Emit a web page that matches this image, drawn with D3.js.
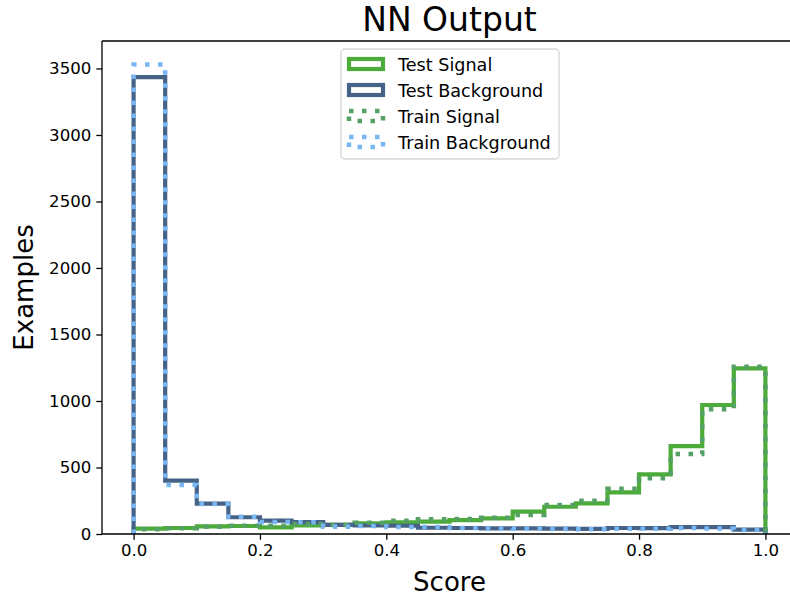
<!DOCTYPE html>
<html>
<head>
<meta charset="utf-8">
<script src="https://cdn.jsdelivr.net/npm/d3@7"></script>
<style>
  body { margin: 0; background: #fff; overflow: hidden; }
  svg { font-family: "DejaVu Sans", sans-serif; display: block; }
</style>
</head>
<body>
<div id="chart"></div>
<script>
// bin edges: 20 bins from 0 to 1
const binEdges = d3.range(21).map((i) => +(i * 0.05).toFixed(2));
const xTicks = [0, 0.2, 0.4, 0.6, 0.8, 1.0];
const yTicks = [0, 500, 1000, 1500, 2000, 2500, 3000, 3500];

// counts per bin
const testSignal = [40, 45, 58, 60, 50, 65, 68, 80, 88, 93, 105, 118, 168, 205, 230, 313, 448, 661, 970, 1245];
const testBackground = [3435, 402, 228, 126, 100, 90, 68, 64, 62, 47, 45, 43, 42, 40, 38, 45, 44, 52, 52, 33];
const trainSignal = [35, 43, 55, 62, 62, 75, 67, 85, 100, 110, 112, 122, 143, 218, 250, 340, 420, 601, 937, 1257];
const trainBackground = [3530, 368, 225, 130, 90, 88, 55, 60, 53, 53, 45, 42, 40, 38, 36, 40, 40, 45, 42, 30];

const series = [
  { name: 'Test Signal', values: testSignal, color: '#4dab3c', dash: null },
  { name: 'Test Background', values: testBackground, color: '#466387', dash: null },
  { name: 'Train Signal', values: trainSignal, color: '#55a065', dash: '4.5 8.5' },
  { name: 'Train Background', values: trainBackground, color: '#78b6f4', dash: '4.5 8.5' },
];

const width = 790;
const height = 599;
const margin = { top: 41, right: -7, bottom: 65, left: 102 };

const svg = d3.select('#chart')
  .append('svg')
  .attr('width', width)
  .attr('height', height);

const x = d3.scaleLinear()
  .domain([-0.05, 1.05])
  .range([margin.left, width - margin.right]);

const yMax = d3.max(series, (s) => d3.max(s.values)) * 1.05;
const y = d3.scaleLinear()
  .domain([0, yMax])
  .range([height - margin.bottom, margin.top]);

// step outline like histtype='step': up from 0, across each bin, back down to 0
const stepPoints = (vals) => {
  const pts = [[binEdges[0], 0]];
  vals.forEach((v, i) => {
    pts.push([binEdges[i], v]);
    pts.push([binEdges[i + 1], v]);
  });
  pts.push([binEdges[binEdges.length - 1], 0]);
  return pts;
};

const line = d3.line()
  .x((d) => x(d[0]))
  .y((d) => y(d[1]));

const plot = svg.append('g');

series.forEach((s) => {
  plot.append('path')
    .attr('d', line(stepPoints(s.values)))
    .attr('fill', 'none')
    .attr('stroke', s.color)
    .attr('stroke-width', s.dash ? 4.5 : 4.2)
    .attr('stroke-dasharray', s.dash)
    .attr('stroke-linejoin', 'miter');
});

// axes
const xAxis = svg.append('g')
  .attr('transform', `translate(0,${height - margin.bottom})`)
  .call(d3.axisBottom(x).tickValues(xTicks).tickFormat(d3.format('.1f'))
    .tickSizeInner(5.7).tickSizeOuter(0).tickPadding(5));
const yAxis = svg.append('g')
  .attr('transform', `translate(${margin.left},0)`)
  .call(d3.axisLeft(y).tickValues(yTicks).tickFormat(d3.format('d'))
    .tickSizeInner(5.7).tickSizeOuter(0).tickPadding(5));

[xAxis, yAxis].forEach((a) => {
  a.selectAll('.domain').remove();
  a.selectAll('.tick line').attr('stroke', '#000').attr('stroke-width', 1.3);
  a.selectAll('.tick text')
    .attr('fill', '#000')
    .style('font-size', '16.6px')
    .style('font-family', '"DejaVu Sans", sans-serif');
});

// spines
const x0 = margin.left, x1 = width - margin.right;
const y0 = height - margin.bottom, y1 = margin.top;
svg.append('path')
  .attr('d', `M${x0},${y1}V${y0}H${x1}V${y1}H${x0}`)
  .attr('fill', 'none')
  .attr('stroke', '#000')
  .attr('stroke-width', 1.3);

// title and axis labels
svg.append('text')
  .attr('x', (x0 + x1) / 2)
  .attr('y', 31)
  .attr('text-anchor', 'middle')
  .style('font-size', '33px')
  .text('NN Output');

svg.append('text')
  .attr('x', (x0 + x1) / 2)
  .attr('y', 591)
  .attr('text-anchor', 'middle')
  .style('font-size', '26px')
  .text('Score');

svg.append('text')
  .attr('transform', `translate(33,${(y0 + y1) / 2}) rotate(-90)`)
  .attr('text-anchor', 'middle')
  .style('font-size', '26px')
  .text('Examples');

// legend
const legend = svg.append('g').attr('transform', 'translate(341,49)');
legend.append('rect')
  .attr('width', 218)
  .attr('height', 110)
  .attr('rx', 4)
  .attr('fill', 'rgba(255,255,255,0.8)')
  .attr('stroke', '#d6d6d6')
  .attr('stroke-width', 1.3);

series.forEach((s, i) => {
  const row = legend.append('g').attr('transform', `translate(0,${15 + i * 26})`);
  row.append('rect')
    .attr('x', 8)
    .attr('y', -5)
    .attr('width', 34)
    .attr('height', 10)
    .attr('fill', 'none')
    .attr('stroke', s.color)
    .attr('stroke-width', s.dash ? 4.5 : 4.2)
    .attr('stroke-dasharray', s.dash);
  row.append('text')
    .attr('x', 57)
    .attr('y', 6.5)
    .style('font-size', '17.6px')
    .text(s.name);
});
</script>
</body>
</html>
